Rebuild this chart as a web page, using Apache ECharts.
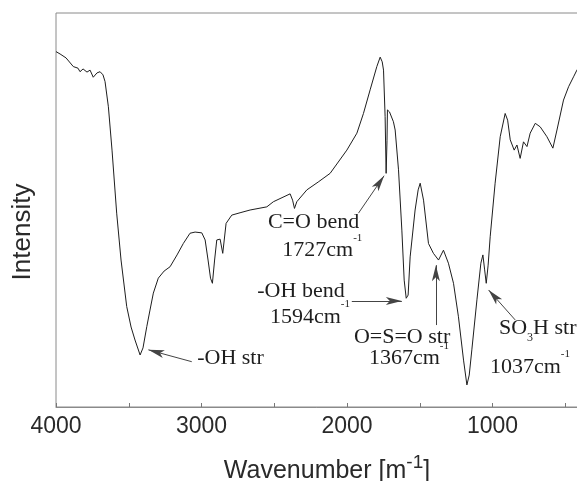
<!DOCTYPE html>
<html>
<head>
<meta charset="utf-8">
<script src="https://cdn.jsdelivr.net/npm/echarts@6/dist/echarts.min.js"></script>
<style>html,body{margin:0;padding:0;background:#fff;}#c{width:577px;height:481px;}</style>
</head>
<body>
<div id="c"></div>
<script>
// Spectrum data (wavenumber, intensity in arbitrary units)
const wavenumber = [4000,3972,3931,3881,3849,3835,3814,3787,3766,3744,
  3718,3697,3677,3663,3640,3615,3583,3553,3514,3484,
  3457,3422,3402,3376,3354,3331,3297,3257,3216,3168,
  3125,3079,3044,2998,2975,2955,2938,2925,2910,2895,
  2872,2854,2831,2792,2735,2666,2551,2506,2391,2374,
  2361,2345,2276,2198,2116,2001,1932,1887,1841,1795,
  1772,1758,1749,1738,1731,1725,1722,1708,1681,1669,
  1646,1623,1607,1593,1580,1566,1532,1511,1497,1474,
  1440,1406,1371,1337,1303,1268,1234,1199,1176,1160,
  1142,1107,1080,1066,1054,1043,1030,1016,982,947,
  913,896,878,851,832,810,787,763,741,706,
  672,626,585,557,512,477,443,420,400];
const intensity = [90.2,89.6,88.6,86.4,86.0,85.1,85.8,85.0,85.5,83.7,
  84.8,85.1,84.3,82.6,76.2,65.2,49.2,37.3,25.5,20.3,
  17.0,13.2,15.0,20.4,24.6,28.9,32.7,34.5,35.6,38.6,
  41.5,44.1,44.4,44.2,42.4,37.3,32.7,31.4,37.3,42.4,
  42.6,39.0,46.6,48.7,49.3,50.0,50.8,52.1,54.1,52.5,
  50.4,52.1,55.1,57.1,59.3,65.2,69.5,74.5,80.5,86.4,
  88.8,87.6,85.5,73.7,59.3,67.7,75.4,74.9,72.4,70.3,
  60.2,44.9,32.2,27.6,28.4,38.1,50.0,55.1,56.8,52.5,
  41.5,39.0,37.3,39.8,36.5,31.4,22.9,11.9,5.6,8.1,
  14.5,27.2,36.5,38.6,34.8,31.4,36.0,43.2,56.8,68.6,
  74.5,72.8,67.8,65.2,66.5,63.1,67.3,66.1,69.5,72.0,
  71.1,68.6,65.7,70.3,77.9,81.3,83.8,85.5,86.5];

// Axis tick labels
const tickLabels = [4000, 3000, 2000, 1000];

// Annotation text lines and their anchors (data coordinates: left edge, vertical centre)
const labelTexts = ['{t|-OH str}', '{t|C=O bend}', '{t|1727cm}{s|-1}', '{t|-OH bend}', '{t|1594cm}{s|-1}',
  '{t|O=S=O str}', '{t|1367cm}{s|-1}', '{u|SO}{b|3}{u|H str}', '{t|1037cm}{s|-1}'];
const labelWn  = [3033, 2547, 2448, 2620, 2533, 1956, 1853, 959, 1021];
const labelVal = [12.4, 47.0, 39.8, 29.3, 22.9, 17.8, 12.4, 20.0, 10.2];

// Arrows: tail -> head (data coordinates)
const arrowTailWn  = [3067, 1921, 1967, 1389, 844];
const arrowTailVal = [11.5, 49.2, 26.9, 20.8, 22.1];
const arrowHeadWn  = [3365, 1745, 1623, 1389, 1027];
const arrowHeadVal = [14.5, 58.7, 26.9, 36.0, 29.7];

const points = wavenumber.map((w, i) => [w, intensity[i]]);
const serif = 'Liberation Serif';
const sans = 'Liberation Sans';

const markPts = labelTexts.map((t, i) => ({
  coord: [labelWn[i], labelVal[i]],
  label: { formatter: t }
}));
const arrows = arrowTailWn.map((w, i) => [
  { coord: [w, arrowTailVal[i]], symbol: 'none' },
  { coord: [arrowHeadWn[i], arrowHeadVal[i]], symbol: 'arrow' }
]);

const chart = echarts.init(document.getElementById('c'), null, { renderer: 'canvas' });
chart.setOption({
  animation: false,
  backgroundColor: '#fff',
  grid: { left: 56, top: 13, width: 582, height: 394, show: true, borderColor: '#8a8a8a', borderWidth: 1,
    containLabel: false, outerBoundsMode: 'none' },
  xAxis: {
    type: 'value', inverse: true, min: 0, max: 4000, interval: 500,
    axisLine: { show: true, lineStyle: { color: '#8a8a8a', width: 1 } },
    axisTick: { show: true, inside: true, length: 4, lineStyle: { color: '#777' } },
    splitLine: { show: false },
    axisLabel: {
      margin: 8, color: '#2a2a2a', fontFamily: sans, fontSize: 23,
      formatter: v => tickLabels.indexOf(v) >= 0 ? String(v) : ''
    },
    name: '{m|Wavenumber [m}{p|-1}{m|]}',
    nameLocation: 'middle', nameGap: 46,
    nameTextStyle: {
      padding: [0, 40, 0, 0],
      rich: {
        m: { fontFamily: sans, fontSize: 25, color: '#2a2a2a', lineHeight: 36 },
        p: { fontFamily: sans, fontSize: 19, color: '#2a2a2a', lineHeight: 18, verticalAlign: 'top' }
      }
    }
  },
  yAxis: {
    type: 'value', min: 0, max: 100,
    axisLine: { show: true, lineStyle: { color: '#8a8a8a', width: 1 } },
    axisTick: { show: false }, axisLabel: { show: false }, splitLine: { show: false },
    name: 'Intensity', nameLocation: 'middle', nameGap: 20,
    nameTextStyle: { fontFamily: sans, fontSize: 26, color: '#2a2a2a', padding: [0, 44, 0, 0] }
  },
  series: [{
    type: 'line', data: points, showSymbol: false, smooth: false, clip: true,
    lineStyle: { color: '#1e1e1e', width: 1 },
    silent: true,
    markLine: {
      silent: true, animation: false,
      symbolSize: [6, 16],
      lineStyle: { color: '#444', width: 1, type: 'solid' },
      itemStyle: { color: '#111' },
      label: { show: false },
      emphasis: { disabled: true },
      data: arrows
    },
    markPoint: {
      silent: true, animation: false,
      symbol: 'rect', symbolSize: 1,
      itemStyle: { color: 'rgba(0,0,0,0)' },
      label: {
        show: true, position: 'right', distance: 0,
        rich: {
          t: { fontFamily: serif, fontSize: 22, color: '#1e1e1e', lineHeight: 36 },
          u: { fontFamily: serif, fontSize: 22, color: '#1e1e1e', lineHeight: 32 },
          s: { fontFamily: serif, fontSize: 11, color: '#1e1e1e', lineHeight: 12, verticalAlign: 'top' },
          b: { fontFamily: serif, fontSize: 12, color: '#1e1e1e', lineHeight: 12, verticalAlign: 'bottom' }
        }
      },
      emphasis: { disabled: true },
      data: markPts
    }
  }]
});
</script>
</body>
</html>
